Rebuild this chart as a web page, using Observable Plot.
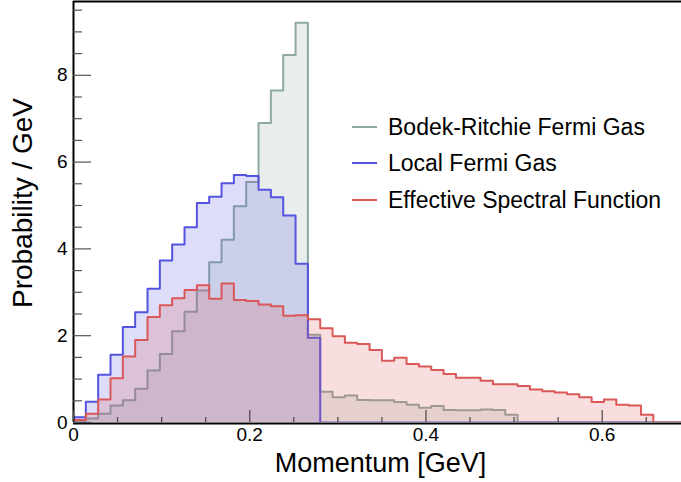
<!DOCTYPE html>
<html>
<head>
<meta charset="utf-8">
<script src="https://cdn.jsdelivr.net/npm/d3@7"></script>
<script src="https://cdn.jsdelivr.net/npm/@observablehq/plot@0.6"></script>
<style>
html, body { margin: 0; padding: 0; background: #fff; overflow: hidden; }
#wrap { position: relative; width: 681px; height: 482px; font-family: "Liberation Sans", Arial, Helvetica, sans-serif; }
#legend { position: absolute; left: 0; top: 0; }
.row { position: absolute; height: 26px; display: flex; align-items: center; white-space: nowrap; font-size: 23px; color: #000; }
.sw { width: 25px; height: 2px; margin-right: 11px; }
</style>
</head>
<body>
<div id="wrap"><div id="legend"></div></div>
<script>
// ---- data (50 bins of 0.014 GeV from 0 to 0.7) ----
const binWidth = 0.014;
const seriesNames = ["Bodek-Ritchie Fermi Gas", "Local Fermi Gas", "Effective Spectral Function"];
const seriesColors = ["#8fa9a1", "#5454e0", "#db5858"];

const bodekRitchie = [0.04, 0.09, 0.20, 0.39, 0.51, 0.78, 1.20, 1.58, 2.10, 2.55,
  3.04, 3.69, 4.21, 4.98, 5.54, 6.90, 7.65, 8.47, 9.21, 2.02,
  0.71, 0.58, 0.62, 0.52, 0.51, 0.51, 0.47, 0.41, 0.34, 0.38,
  0.29, 0.28, 0.28, 0.30, 0.29, 0.18, 0, 0, 0, 0,
  0, 0, 0, 0, 0, 0, 0, 0, 0, 0];

const localFermiGas = [0.12, 0.48, 1.10, 1.56, 2.20, 2.54, 3.08, 3.73, 4.10, 4.50,
  5.06, 5.20, 5.51, 5.70, 5.68, 5.36, 5.19, 4.77, 3.66, 1.95,
  0, 0, 0, 0, 0, 0, 0, 0, 0, 0,
  0, 0, 0, 0, 0, 0, 0, 0, 0, 0,
  0, 0, 0, 0, 0, 0, 0, 0, 0, 0];

const effectiveSF = [0.06, 0.20, 0.53, 1.02, 1.52, 1.90, 2.43, 2.70, 2.86, 3.05,
  3.16, 2.85, 3.20, 2.82, 2.80, 2.72, 2.68, 2.46, 2.47, 2.38,
  2.17, 1.99, 1.84, 1.81, 1.67, 1.42, 1.49, 1.35, 1.29, 1.21,
  1.12, 1.03, 1.03, 0.96, 0.88, 0.88, 0.84, 0.76, 0.72, 0.69,
  0.65, 0.58, 0.47, 0.53, 0.41, 0.39, 0.18, 0, 0, 0];

const xDomain = [0, 0.69];
const yDomain = [0, 9.7];
const xTickLabels = [0, 0.2, 0.4, 0.6];
const xMinorTicks = [0.05, 0.1, 0.15, 0.25, 0.3, 0.35, 0.45, 0.5, 0.55, 0.65];
const yTickLabels = [0, 2, 4, 6, 8];
const yMinorTicks = [0.5, 1, 1.5, 2.5, 3, 3.5, 4.5, 5, 5.5, 6.5, 7, 7.5, 8.5, 9, 9.5];
const xTitle = "Momentum [GeV]";
const yTitle = "Probability / GeV";

// step outline points for a histogram
function steps(vals) {
  const pts = [{x: 0, y: 0}];
  vals.forEach((v, i) => {
    pts.push({x: i * binWidth, y: v});
    pts.push({x: (i + 1) * binWidth, y: v});
  });
  pts.push({x: vals.length * binWidth, y: 0});
  return pts;
}

const allSeries = [bodekRitchie, localFermiGas, effectiveSF];
const histMarks = [];
allSeries.forEach((vals, k) => {
  const pts = steps(vals);
  histMarks.push(Plot.areaY(pts, {x: "x", y1: 0, y2: "y", fill: seriesColors[k], fillOpacity: 0.2, clip: true}));
  histMarks.push(Plot.line(pts, {x: "x", y: "y", stroke: seriesColors[k], strokeWidth: 2, clip: true}));
});

const chart = Plot.plot({
  width: 681,
  height: 482,
  marginLeft: 73,
  marginRight: 0,
  marginTop: 1,
  marginBottom: 60,
  style: {fontFamily: "'Liberation Sans', Arial, Helvetica, sans-serif", background: "#fff", color: "#000"},
  x: {domain: xDomain, label: null},
  y: {domain: yDomain, label: null},
  marks: [
    ...histMarks,
    // frame
    Plot.ruleX([xDomain[0]], {stroke: "#000", strokeWidth: 2}),
    Plot.ruleY([yDomain[0]], {stroke: "#000", strokeWidth: 2, dy: 1}),
    Plot.ruleY([yDomain[1]], {stroke: "#000", strokeWidth: 2}),
    // inward ticks
    Plot.ruleX(xTickLabels, {x: d => d, y1: 0, y2: 0, insetTop: -12, stroke: "#444", strokeWidth: 1.2}),
    Plot.ruleX(xMinorTicks, {x: d => d, y1: 0, y2: 0, insetTop: -5, stroke: "#444", strokeWidth: 1.2}),
    Plot.ruleY(yTickLabels, {y: d => d, x1: 0, x2: 0, insetRight: -18, stroke: "#555", strokeWidth: 1.2}),
    Plot.ruleY(yMinorTicks, {y: d => d, x1: 0, x2: 0, insetRight: -9, stroke: "#555", strokeWidth: 1.2}),
    // tick labels
    Plot.axisX(xTickLabels, {tickSize: 0, tickPadding: 5, fontSize: 19, label: null, tickFormat: d => String(d)}),
    Plot.axisY(yTickLabels, {tickSize: 0, tickPadding: 6, fontSize: 19, label: null, tickFormat: d => String(d)}),
    // titles
    Plot.text([xTitle], {text: d => d, frameAnchor: "bottom", lineAnchor: "middle", textAnchor: "middle", dx: 3, dy: 41, fontSize: 27, fill: "#000"}),
    Plot.text([yTitle], {text: d => d, frameAnchor: "left", lineAnchor: "middle", textAnchor: "middle", rotate: -90, dx: -50, dy: -9, fontSize: 28, fill: "#000"})
  ]
});
document.getElementById("wrap").prepend(chart);

// legend inside plot area
const legend = document.getElementById("legend");
const legendTop = [114, 150, 187];
seriesNames.forEach((name, k) => {
  const row = document.createElement("div");
  row.className = "row";
  row.style.left = "352px";
  row.style.top = legendTop[k] + "px";
  const sw = document.createElement("div");
  sw.className = "sw";
  sw.style.background = seriesColors[k];
  const t = document.createElement("span");
  t.textContent = name;
  row.appendChild(sw);
  row.appendChild(t);
  legend.appendChild(row);
});
</script>
</body>
</html>
